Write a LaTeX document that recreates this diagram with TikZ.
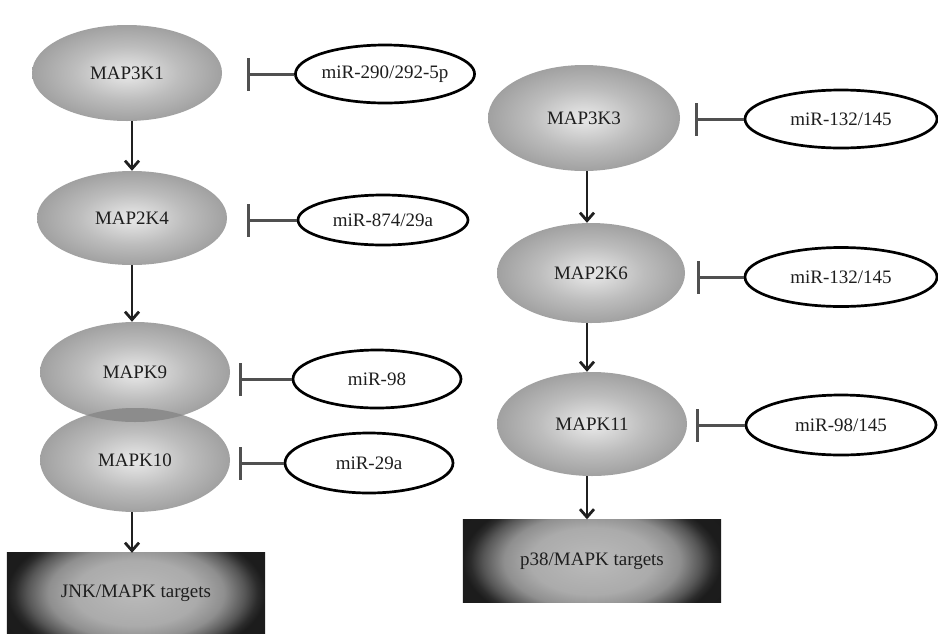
\documentclass[tikz,border=0pt]{standalone}
\usepackage{fontspec}
\setmainfont{Liberation Serif}
\usetikzlibrary{shapes.geometric,arrows.meta}
\pgfdeclarelayer{bg}
\pgfsetlayers{bg,main}
\definecolor{txt}{HTML}{1E1E1E}
\definecolor{ovl}{HTML}{8C8C8C}
\definecolor{inhcol}{HTML}{505050}
\definecolor{actcol}{HTML}{202020}
\pgfdeclareradialshading{kinshade}{\pgfpoint{0bp}{0bp}}{color(0bp)=(white!90!black); color(3bp)=(white!88!black); color(14bp)=(white!74!black); color(25bp)=(white!63!black); color(50bp)=(white!63!black)}
\pgfdeclareradialshading{tgtshade}{\pgfpoint{0bp}{0bp}}{color(0bp)=(white!73!black); color(12bp)=(white!67!black); color(17bp)=(white!56!black); color(21bp)=(white!34!black); color(23.5bp)=(white!17!black); color(25bp)=(white!11!black); color(50bp)=(white!9!black)}
\tikzset{
  kin/.style={ellipse, shading=kinshade, inner sep=0pt, text=txt, font=\fontsize{19}{22}\selectfont},
  mir/.style={ellipse, draw=black, line width=2.7pt, fill=white, inner sep=0pt, text=txt, font=\fontsize{19}{22}\selectfont},
  tgt/.style={rectangle, inner sep=0pt, text=txt, font=\fontsize{19}{22}\selectfont},
  act/.style={draw=actcol, line width=2.8pt, -{Straight Barb[length=8pt,width=14pt]}},
  inh/.style={draw=inhcol, line width=3pt, -{Bar[width=33pt]}}
}
\newcommand{\tgtbg}[1]{%
  \begin{pgfonlayer}{bg}
  \begin{scope}
    \clip (#1.north west) rectangle (#1.south east);
    \shade[shading=tgtshade] ([yshift=28pt]#1.north west) rectangle ([yshift=-28pt]#1.south east);
  \end{scope}
  \end{pgfonlayer}}
\begin{document}
\begin{tikzpicture}[x=1pt,y=-1pt]
\useasboundingbox (0,0) rectangle (938,633);
\begin{pgfonlayer}{bg}
\fill[white] (0,0) rectangle (938,633);
\end{pgfonlayer}
\coordinate (L) at (132,0);
\coordinate (R) at (587,0);
% left column
\node[kin, minimum width=190pt, minimum height=96pt] (k1) at (127,73) {MAP3K1};
\node[mir, minimum width=170pt, minimum height=58pt] (m1) at (385,74) {miR-290/292-5p};
\node[kin, minimum width=190pt, minimum height=94pt] (k2) at (132,218) {MAP2K4};
\node[mir, minimum width=170pt, minimum height=50pt] (m2) at (383,220) {miR-874/29a};
\node[kin, minimum width=190pt, minimum height=100pt] (k3) at (135,372) {MAPK9};
\node[mir, minimum width=168pt, minimum height=58pt] (m3) at (377,379) {miR-98};
\node[kin, minimum width=190pt, minimum height=104pt] (k4) at (135,460) {MAPK10};
\node[mir, minimum width=168pt, minimum height=60pt] (m4) at (369,463) {miR-29a};
\begin{scope}
  \clip (135,372) ellipse [x radius=95pt, y radius=50pt];
  \fill[ovl] (135,460) ellipse [x radius=95pt, y radius=52pt];
\end{scope}
\node[tgt, minimum width=258pt, minimum height=80pt] (t1) at (136,593) {JNK/MAPK targets};
\tgtbg{t1}
% right column
\node[kin, minimum width=192pt, minimum height=106pt] (r1) at (584,118) {MAP3K3};
\node[mir, minimum width=192pt, minimum height=58pt] (n1) at (841,119) {miR-132/145};
\node[kin, minimum width=188pt, minimum height=100pt] (r2) at (591,273) {MAP2K6};
\node[mir, minimum width=192pt, minimum height=59pt] (n2) at (841,277) {miR-132/145};
\node[kin, minimum width=190pt, minimum height=104pt] (r3) at (592,424) {MAPK11};
\node[mir, minimum width=190pt, minimum height=60pt] (n3) at (841,425) {miR-98/145};
\node[tgt, minimum width=258pt, minimum height=83pt] (t2) at (592,561) {p38/MAPK targets};
\tgtbg{t2}
% activation arrows
\draw[act] (k1.south -| L) -- (k2.north -| L);
\draw[act] (k2.south -| L) -- (k3.north -| L);
\draw[act] (k4.south -| L) -- (t1.north -| L);
\draw[act] (r1.south -| R) -- (r2.north -| R);
\draw[act] (r2.south -| R) -- (r3.north -| R);
\draw[act] (r3.south -| R) -- (t2.north -| R);
% inhibition
\draw[inh, shorten >=25pt] (m1.west) -- (m1.west -| k1.east);
\draw[inh, shorten >=20pt] (m2.west) -- (m2.west -| k2.east);
\draw[inh, shorten >=9pt] (m3.west) -- (m3.west -| k3.east);
\draw[inh, shorten >=9pt] (m4.west) -- (m4.west -| k4.east);
\draw[inh, shorten >=15pt] (n1.west) -- (n1.west -| r1.east);
\draw[inh, shorten >=12pt] (n2.west) -- (n2.west -| r2.east);
\draw[inh, shorten >=9pt] (n3.west) -- (n3.west -| r3.east);
\end{tikzpicture}
\end{document}
